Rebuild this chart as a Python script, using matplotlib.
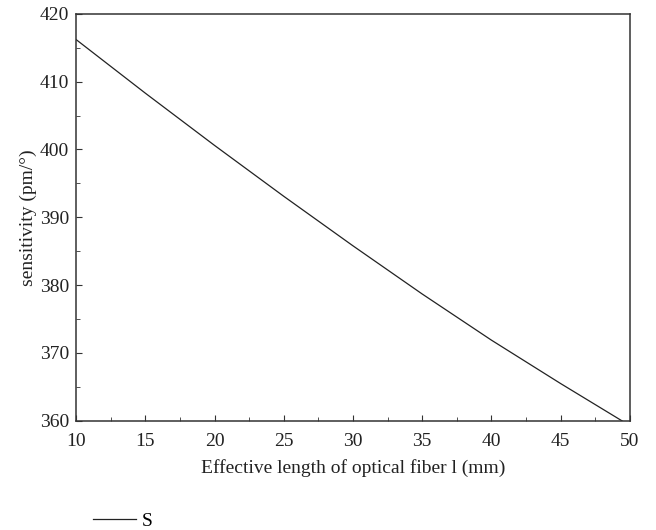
import numpy as np
import matplotlib
matplotlib.use("Agg")
import matplotlib.pyplot as plt
from matplotlib.ticker import MultipleLocator

plt.rcParams["font.family"] = ["Liberation Serif", "DejaVu Serif"]

# Werte
laenge = [10, 15, 20, 25, 30, 35, 40, 45, 50]
sensitivitaet = [416.2, 408.3, 400.6, 393.1, 385.8, 378.7, 371.9, 365.5, 359.3]

fig = plt.figure(figsize=(6.56, 5.30), dpi=100)
ax = fig.add_axes([0.116, 0.206, 0.844, 0.768])

ax.plot(laenge, sensitivitaet, color="#222222", linewidth=0.9, label="S")

ax.set_xlim(10, 50)
ax.set_ylim(360, 420)
ax.xaxis.set_major_locator(MultipleLocator(5))
ax.xaxis.set_minor_locator(MultipleLocator(2.5))
ax.yaxis.set_major_locator(MultipleLocator(10))
ax.yaxis.set_minor_locator(MultipleLocator(5))
ax.tick_params(which="both", direction="in", top=False, right=False,
               labelsize=14, colors="#333333", labelcolor="#222222")
ax.tick_params(which="major", length=4)
ax.tick_params(which="minor", length=3)
ax.tick_params(axis="x", which="major", pad=9)
ax.tick_params(axis="y", which="major", pad=5)
for s in ax.spines.values():
    s.set_color("#333333")
    s.set_linewidth(1.1)

ax.set_xlabel("Effective length of optical fiber l (mm)", fontsize=14, color="#222222", labelpad=6)
ax.set_ylabel("sensitivity (pm/°)", fontsize=14, color="#222222", labelpad=2)

fig.legend(loc="lower left", bbox_to_anchor=(0.115, -0.033), frameon=False,
           fontsize=14, handlelength=2.2, handletextpad=0.3)

fig.savefig("out.png", dpi=100)
